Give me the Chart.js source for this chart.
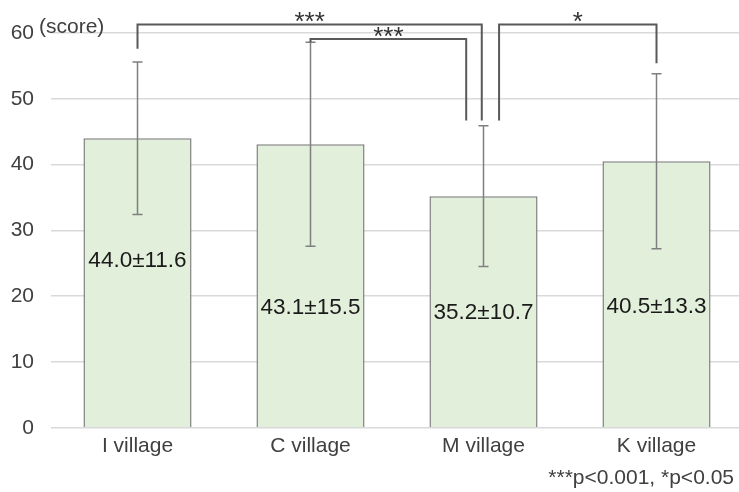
<!DOCTYPE html>
<html lang="en">
<head>
    <meta charset="UTF-8">
    <title>Score by village</title>
    <script src="https://cdn.jsdelivr.net/npm/chart.js@4.4.1/dist/chart.umd.min.js"></script>
    <style>
        html, body { margin: 0; padding: 0; background: #fff; overflow: hidden; }
        #wrap { width: 739px; height: 492px; overflow: hidden; }
    </style>
</head>
<body>
    <div id="wrap">
        <canvas id="chart" width="746" height="492"></canvas>
    </div>

    <script>
        // Data
        const villages = ['I village', 'C village', 'M village', 'K village'];
        const means = [44.0, 43.1, 35.2, 40.5];
        const sds = [11.6, 15.5, 10.7, 13.3];
        const yTicks = [0, 10, 20, 30, 40, 50, 60];

        // significance brackets: from / to category, top value, leg bottoms, stars
        const bracketFrom = [0, 1, 2];
        const bracketTo = [2, 2, 3];
        const bracketTop = [61.3, 59.1, 61.3];
        const bracketLeftEnd = [57.6, 58.6, 46.7];
        const bracketRightEnd = [46.7, 46.7, 55.4];
        const bracketStars = ['***', '***', '*'];

        // label placement inside bars (value units) and leg shifts (fraction of category)
        const labelAt = [25.4, 18.3, 17.5, 18.4];
        const legShiftFrom = [0, 0, 0.09];
        const legShiftTo = [-0.01, -0.1, 0];

        const FONT = '"Liberation Sans", Arial, sans-serif';
        const TEXT = '#404040';

        const overlay = {
            id: 'overlay',
            afterDatasetsDraw(chart) {
                const ctx = chart.ctx;
                const x = chart.scales.x;
                const y = chart.scales.y;
                const step = x.getPixelForValue(1) - x.getPixelForValue(0);
                ctx.save();

                // error bars
                ctx.strokeStyle = '#7f7f7f';
                ctx.lineWidth = 1.5;
                means.forEach((m, i) => {
                    const cx = x.getPixelForValue(i);
                    const top = y.getPixelForValue(m + sds[i]);
                    const bot = y.getPixelForValue(m - sds[i]);
                    ctx.beginPath();
                    ctx.moveTo(cx, top); ctx.lineTo(cx, bot);
                    ctx.moveTo(cx - 5, top); ctx.lineTo(cx + 5, top);
                    ctx.moveTo(cx - 5, bot); ctx.lineTo(cx + 5, bot);
                    ctx.stroke();
                });

                // value labels
                ctx.fillStyle = '#1a1a1a';
                ctx.font = '22.5px ' + FONT;
                ctx.textAlign = 'center';
                ctx.textBaseline = 'middle';
                means.forEach((m, i) => {
                    ctx.fillText(m.toFixed(1) + '\u00b1' + sds[i].toFixed(1),
                        x.getPixelForValue(i), y.getPixelForValue(labelAt[i]));
                });

                // brackets
                ctx.strokeStyle = '#595959';
                ctx.lineWidth = 2;
                ctx.fillStyle = '#333';
                ctx.font = '26px ' + FONT;
                ctx.textBaseline = 'alphabetic';
                bracketFrom.forEach((a, k) => {
                    const x1 = x.getPixelForValue(a) + legShiftFrom[k] * step;
                    const x2 = x.getPixelForValue(bracketTo[k]) + legShiftTo[k] * step;
                    const yt = y.getPixelForValue(bracketTop[k]);
                    ctx.beginPath();
                    ctx.moveTo(x1, y.getPixelForValue(bracketLeftEnd[k]));
                    ctx.lineTo(x1, yt);
                    ctx.lineTo(x2, yt);
                    ctx.lineTo(x2, y.getPixelForValue(bracketRightEnd[k]));
                    ctx.stroke();
                    ctx.fillText(bracketStars[k], (x1 + x2) / 2, yt + 6);
                });

                // axis unit and footnote
                ctx.fillStyle = TEXT;
                ctx.font = '21px ' + FONT;
                ctx.textAlign = 'left';
                ctx.textBaseline = 'middle';
                ctx.fillText('(score)', 39, 27);
                ctx.font = '21px ' + FONT;
                ctx.textAlign = 'right';
                ctx.fillText('***p<0.001, *p<0.05', 734, 478);
                ctx.restore();
            }
        };

        new Chart(document.getElementById('chart'), {
            type: 'bar',
            data: {
                labels: villages,
                datasets: [{
                    data: means,
                    backgroundColor: '#e2efda',
                    borderColor: '#808080',
                    borderWidth: 1.5,
                    barPercentage: 0.625,
                    categoryPercentage: 1
                }]
            },
            options: {
                responsive: false,
                animation: false,
                layout: { padding: { top: 33, right: 3, bottom: 27, left: 0 } },
                plugins: { legend: { display: false }, tooltip: { enabled: false } },
                scales: {
                    x: {
                        grid: { display: false, drawTicks: false },
                        border: { display: false },
                        ticks: { color: TEXT, font: { family: FONT, size: 21 }, padding: 6 }
                    },
                    y: {
                        min: 0,
                        max: 60,
                        afterFit(scale) { scale.width = 51; },
                        afterBuildTicks(scale) { scale.ticks = yTicks.map(v => ({ value: v })); },
                        grid: { color: '#d9d9d9', lineWidth: 1.5, drawTicks: false },
                        border: { display: false },
                        ticks: { color: TEXT, font: { family: FONT, size: 21 }, padding: 17 }
                    }
                }
            },
            plugins: [overlay]
        });
    </script>
</body>
</html>
